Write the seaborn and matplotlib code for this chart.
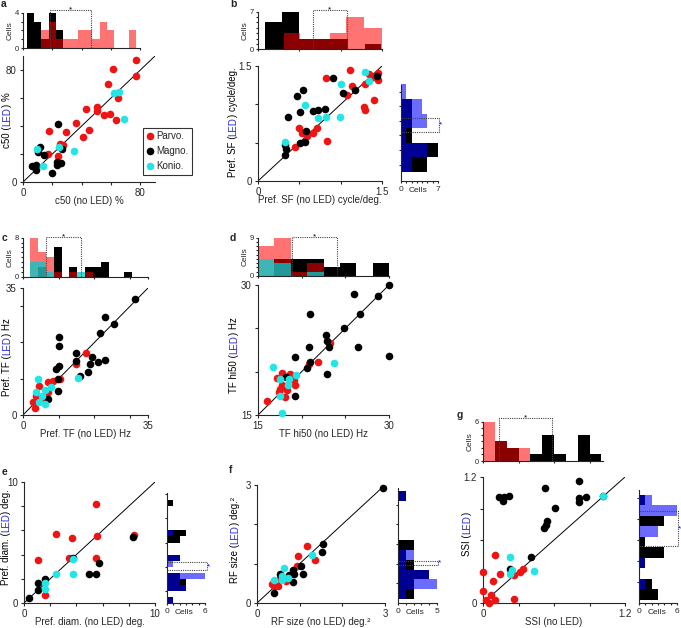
import numpy as np
import pandas as pd
import matplotlib
matplotlib.use("Agg")
import matplotlib.pyplot as plt
import seaborn as sns
from matplotlib.lines import Line2D
from matplotlib.transforms import IdentityTransform

# ---------------- data ----------------
# Panel a: c50 (%)
A_P_X = [77.3, 61.3, 77.0, 57.8, 64.7, 50.7, 42.7, 50.3, 55.3, 59.0, 63.5, 36.1, 45.3, 17.6, 29.3, 41.1, 27.4, 25.1, 17.1, 24.0]
A_P_Y = [87.2, 80.7, 75.9, 70.0, 59.7, 53.7, 51.8, 50.9, 47.8, 48.5, 44.2, 41.8, 37.5, 36.3, 35.8, 32.2, 26.3, 27.0, 19.8, 18.6]
A_M_X = [24.0, 11.4, 10.3, 14.4, 26.3, 22.9, 25.8, 23.3, 6.4, 9.1, 9.1, 19.9]
A_M_Y = [41.1, 25.1, 21.5, 19.6, 23.4, 14.3, 13.6, 12.4, 11.5, 12.4, 8.8, 6.4]
A_K_X = [62.2, 65.4, 68.6, 9.6, 24.7, 34.7, 13.3]
A_K_Y = [63.8, 64.5, 44.9, 23.9, 25.1, 22.0, 11.5]

# Panel b: preferred SF
B_P_X = [1.107, 0.819, 1.135, 1.082, 1.297, 1.398, 1.277, 1.289, 0.499, 0.709, 0.588, 0.661, 0.527, 0.450, 0.831, 1.338, 1.390, 1.447, 1.451]
B_P_Y = [1.443, 1.344, 1.235, 1.118, 1.270, 1.062, 0.967, 0.923, 0.685, 0.685, 0.590, 0.629, 0.620, 0.446, 0.520, 1.391, 1.357, 1.409, 1.322]
B_M_X = [0.904, 1.026, 1.176, 1.439, 0.539, 0.466, 0.507, 0.365, 0.669, 0.730, 0.811, 0.580, 0.507, 0.568, 0.324, 0.336, 0.332]
B_M_Y = [1.344, 1.149, 1.192, 1.365, 1.192, 1.105, 0.902, 0.837, 0.915, 0.932, 0.945, 0.650, 0.499, 0.512, 0.468, 0.412, 0.338]
B_K_X = [1.297, 1.001, 1.338, 0.568, 0.730, 0.823, 0.993, 0.332]
B_K_Y = [1.417, 1.270, 1.300, 0.988, 0.828, 0.837, 0.837, 0.512]

# Panel c: preferred TF
C_P_X = [17.7, 14.9, 10.4, 8.4, 7.0, 4.5, 7.0, 2.8, 3.3, 5.1, 6.5, 3.7]
C_P_Y = [17.0, 14.1, 9.9, 9.5, 9.2, 8.1, 6.4, 3.5, 1.8, 4.1, 5.5, 5.1]
C_M_X = [31.3, 22.9, 25.4, 21.5, 10.1, 10.1, 14.9, 19.4, 22.9, 21.1, 18.7, 10.1, 9.3, 14.9, 18.2, 15.9, 9.8, 9.8, 7.0]
C_M_Y = [32.0, 26.9, 25.1, 22.6, 21.6, 18.9, 17.0, 16.1, 15.2, 14.5, 14.0, 13.6, 12.7, 14.8, 11.8, 10.8, 9.9, 6.6, 4.3]
C_K_X = [4.2, 15.4, 7.7, 6.1, 3.7, 5.4, 4.4, 6.1]
C_K_Y = [9.9, 10.1, 7.6, 6.9, 6.4, 5.1, 3.5, 3.0]

# Panel d: TF hi50
D_P_X = [23.2, 20.8, 21.9, 17.7, 18.7, 17.2, 19.1, 17.7, 18.2, 17.5, 18.3, 19.2, 17.4, 18.1, 16.0]
D_P_Y = [23.3, 20.9, 21.1, 19.9, 19.7, 19.3, 19.0, 18.5, 18.3, 18.0, 17.9, 18.5, 17.7, 17.1, 16.6]
D_M_X = [30.0, 26.0, 28.7, 21.0, 26.7, 24.9, 22.8, 22.9, 20.8, 23.1, 26.4, 30.0, 19.2, 21.0, 20.6, 22.9, 18.2, 19.2]
D_M_Y = [30.0, 29.0, 28.7, 26.7, 26.7, 25.0, 24.2, 23.5, 22.8, 22.8, 22.9, 21.8, 21.7, 21.1, 20.4, 19.7, 19.4, 17.2]
D_K_X = [16.7, 23.7, 19.4, 17.5, 18.5, 18.4, 17.5, 17.8]
D_K_Y = [20.5, 21.0, 19.6, 19.2, 19.2, 18.5, 17.2, 15.2]

# Panel e: preferred diameter
E_P_X = [5.5, 2.44, 3.64, 5.6, 8.4, 1.04, 3.46, 5.5, 1.6]
E_P_Y = [8.2, 5.7, 5.34, 5.56, 5.6, 3.56, 3.75, 3.7, 0.68]
E_M_X = [8.35, 5.7, 4.99, 5.47, 3.77, 1.6, 1.04, 1.04, 0.4]
E_M_Y = [5.48, 3.29, 2.41, 2.41, 3.7, 1.97, 1.64, 1.1, 0.41]
E_K_X = [3.77, 2.44, 3.72, 1.6, 1.6]
E_K_Y = [3.64, 2.38, 2.38, 1.64, 1.15]

# Panel f: RF size
F_P_X = [1.18, 0.97, 1.36, 0.94, 0.55, 0.69, 0.35, 0.49, 0.39]
F_P_Y = [1.46, 1.19, 1.10, 0.95, 0.64, 0.55, 0.49, 0.42, 0.42]
F_M_X = [2.96, 1.54, 1.53, 1.03, 1.07, 0.84, 0.86, 0.74, 0.55, 0.84, 0.39]
F_M_Y = [2.93, 1.49, 1.29, 0.93, 0.74, 0.83, 0.75, 0.71, 0.75, 0.54, 0.25]
F_K_X = [1.29, 0.64, 0.58, 0.72, 0.58, 0.39]
F_K_Y = [1.21, 0.88, 0.68, 0.64, 0.58, 0.58]

# Panel g: SSI
G_P_X = [0.099, 0.0, 0.147, 0.085, 0.263, 0.316, 0.339, 0.0, 0.023, 0.065, 0.099, 0.05, 0.263]
G_P_Y = [0.454, 0.295, 0.276, 0.213, 0.270, 0.295, 0.324, 0.117, 0.025, 0.079, 0.032, 0.0, 0.041]
G_M_X = [0.81, 0.52, 0.136, 0.175, 0.217, 0.169, 0.813, 0.87, 0.81, 0.607, 0.542, 0.531, 0.514, 0.404, 0.226, 1.01]
G_M_Y = [1.165, 1.095, 1.01, 1.01, 1.02, 0.975, 1.0, 1.006, 0.959, 0.905, 0.778, 0.746, 0.714, 0.435, 0.327, 1.016]
G_K_X = [1.01, 0.226, 0.246, 0.231, 0.429]
G_K_Y = [1.016, 0.435, 0.317, 0.279, 0.308]

# Top histograms (bin edges + counts)
HA_EDGES = [2.5, 7.5, 12.5, 17.5, 22.5, 27.5, 32.5, 37.5, 42.5, 47.5, 52.5, 57.5, 62.5, 67.5, 72.5, 77.5]
HA_BLACK = [4, 3, 1, 4, 2, 0, 0, 0, 0, 0, 0, 0, 0, 0, 0]
HA_RED = [0, 0, 2, 3, 1, 1, 1, 2, 2, 1, 3, 2, 0, 0, 2]

HB_BLACK_EDGES = [0.09, 0.29, 0.49, 0.69, 0.89, 1.09, 1.29, 1.49]
HB_BLACK = [5, 7, 2, 2, 2, 0, 1]
HB_RED_EDGES = [0.32, 0.51, 0.69, 0.87, 1.07, 1.28, 1.50]
HB_RED = [3, 2, 2, 3, 6, 4]

HC_EDGES = [2.0, 4.2, 6.4, 8.6, 10.8, 13.0, 15.2, 17.4, 19.6, 21.8, 24.0, 26.2, 28.4, 30.6, 32.8]
HC_BLACK = [0, 2, 0, 6, 0, 2, 0, 2, 2, 3, 0, 0, 1, 0]
HC_RED = [8, 5, 4, 1, 0, 1, 0, 1, 0, 0, 0, 0, 0, 0]
HC_CYAN = [3, 3, 1, 0, 0, 0, 1, 0, 0, 0, 0, 0, 0, 0]

HD_EDGES = [15.0, 16.875, 18.75, 20.625, 22.5, 24.375, 26.25, 28.125, 30.0]
HD_BLACK = [0, 4, 4, 4, 2, 3, 0, 3]
HD_RED = [7, 9, 1, 3, 0, 0, 0, 0]
HD_CYAN = [4, 3, 0, 1, 0, 0, 0, 0]

HG_EDGES = [0.0, 0.1, 0.2, 0.3, 0.4, 0.5, 0.6, 0.7, 0.8, 0.9, 1.0]
HG_BLACK = [0, 3, 2, 0, 1, 4, 1, 0, 4, 1]
HG_RED = [6, 3, 2, 2, 0, 0, 0, 0, 0, 0]

# Right histograms (LED)
RB_EDGES = [0.12, 0.31, 0.50, 0.69, 0.88, 1.07, 1.26]
RB_BLACK = [5, 7, 2, 2, 2, 0]
RB_BLUE = [2, 5, 1, 5, 4, 1]

RE_EDGES = [0.0, 0.5, 1.0, 1.5, 2.0, 2.5, 3.0, 3.5, 4.0, 4.5, 5.0, 5.5, 6.0, 6.5, 7.0, 7.5, 8.0, 8.5]
RE_BLACK = [1, 0, 3, 3, 2, 0, 0, 2, 0, 0, 2, 3, 0, 0, 0, 0, 1]
RE_BLUE = [1, 0, 3, 2, 6, 0, 1, 2, 0, 0, 0, 1, 0, 0, 0, 0, 0]

RF_EDGES = [0.1, 0.35, 0.6, 0.85, 1.1, 1.35, 1.6, 1.85, 2.1, 2.35, 2.6, 2.85]
RF_BLACK = [2, 2, 4, 2, 1, 2, 0, 0, 0, 0, 1]
RF_BLUE = [1, 5, 4, 1, 2, 0, 0, 0, 0, 0, 1]

RG_EDGES = [0.03, 0.13, 0.23, 0.33, 0.43, 0.53, 0.63, 0.73, 0.83, 0.93, 1.03]
RG_BLACK = [3, 2, 0, 1, 4, 1, 0, 4, 0, 1]
RG_BLUE = [0, 1, 0, 1, 0, 0, 3, 0, 6, 2]

# significance brackets (mean positions)
SIG_A = (18.3, 46.4)
SIG_B = (0.66, 1.074)
SIG_C = (6.35, 16.3)
SIG_D = (18.9, 24.0)
SIG_G = (0.136, 0.579)
SIG_RB = (0.64, 0.82)
SIG_RE = (2.7, 3.35)
SIG_RF = (0.97, 1.07)
SIG_RG = (0.54, 0.88)

LEGEND_LABELS = ["Parvo.", "Magno.", "Konio."]

# ---------------- style ----------------
sns.set_style("ticks")
plt.rcParams["font.family"] = ["Liberation Sans", "DejaVu Sans"]
plt.rcParams["axes.linewidth"] = 0.8
plt.rcParams["xtick.major.width"] = 0.8
plt.rcParams["ytick.major.width"] = 0.8

RED = "#ee1414"
BLACK = "#000000"
CYAN = "#22e6e6"
LEDBLUE = "#2a2ad8"
HRED = "#ff0000"
HCYAN = "#00cccc"
HBLUE = "#0000ff"
DOT = "#444444"

W, H = 681, 628
fig = plt.figure(figsize=(W / 100, H / 100), dpi=100)


def add_ax(x0, y0, x1, y1):
    return fig.add_axes([x0 / W, 1 - y1 / H, (x1 - x0) / W, (y1 - y0) / H])


def fmt(v):
    return ("%g" % v)


def end_labels(ticks):
    return [fmt(ticks[0])] + [""] * (len(ticks) - 2) + [fmt(ticks[-1])]


def hist_frame(edges, counts):
    e = np.asarray(edges, dtype=float)
    return pd.DataFrame({"v": (e[:-1] + e[1:]) / 2, "w": np.asarray(counts, dtype=float)})


def scatter_panel(box, lim, ticks, groups, xlabel):
    ax = add_ax(*box)
    for xs, ys, col in groups:
        df = pd.DataFrame({"x": xs, "y": ys})
        sns.scatterplot(data=df, x="x", y="y", color=col, s=30, linewidth=0, ax=ax,
                        legend=False, clip_on=False, zorder=3)
    ax.axline((lim[0], lim[0]), slope=1, color="k", lw=0.7, zorder=2)
    ax.set_xlim(lim)
    ax.set_ylim(lim)
    ax.set_xticks(ticks)
    ax.set_xticklabels(end_labels(ticks))
    ax.set_yticks(ticks)
    ax.set_yticklabels(end_labels(ticks))
    ax.tick_params(length=2, pad=2.5, labelsize=7)
    sns.despine(ax=ax)
    ax.set_xlabel(xlabel, fontsize=7, labelpad=-1.5)
    ax.set_ylabel("")
    return ax


def top_hist(box, xlim, ymax, layers, xticks, sig, top):
    ax = add_ax(*box)
    for edges, counts, col, al in layers:
        df = hist_frame(edges, counts)
        sns.histplot(data=df, x="v", weights="w", bins=list(edges), color=col, alpha=al,
                     linewidth=0, ax=ax)
    ax.set_xlim(xlim)
    ax.set_ylim(0, ymax)
    ax.set_xticks(xticks)
    ax.set_xticklabels([])
    ax.set_yticks(range(ymax + 1))
    ax.set_yticklabels(["0"] + [""] * (ymax - 1) + [str(ymax)])
    ax.tick_params(length=1.5, pad=1.5, labelsize=5.5)
    sns.despine(ax=ax)
    ax.set_xlabel("")
    ax.set_ylabel("Cells", fontsize=6, labelpad=1)
    x1, x2 = sig
    ax.plot([x1, x1, x2, x2], [0, top, top, 0], ls=(0, (1, 1)), color=DOT,
            lw=0.8, clip_on=False, zorder=5)
    ax.text((x1 + x2) / 2, top, "*", ha="center", va="center", fontsize=6,
            color="k", clip_on=False)
    return ax


def right_hist(box, ylim, xmax, edges, black, blue, yticks, spine_top, sig, xr, cells_xy):
    ax = add_ax(*box)
    sns.histplot(data=hist_frame(edges, black), y="v", weights="w", bins=list(edges),
                 color=BLACK, alpha=1, linewidth=0, ax=ax)
    sns.histplot(data=hist_frame(edges, blue), y="v", weights="w", bins=list(edges),
                 color=HBLUE, alpha=0.58, linewidth=0, ax=ax)
    ax.set_ylim(ylim)
    ax.set_xlim(0, xmax)
    ax.set_xticks(range(xmax + 1))
    ax.set_xticklabels(["0"] + [""] * (xmax - 1) + [str(xmax)])
    ax.set_yticks(yticks)
    ax.set_yticklabels([])
    ax.tick_params(length=1.5, pad=2, labelsize=6)
    sns.despine(ax=ax)
    ax.spines["left"].set_bounds(ylim[0], spine_top)
    ax.set_xlabel("")
    ax.set_ylabel("")
    y1, y2 = sig
    ax.plot([0, xr, xr, 0], [y1, y1, y2, y2], ls=(0, (1, 1)), color=DOT,
            lw=0.8, clip_on=False, zorder=5)
    ax.text(xr + 0.05 * xmax, (y1 + y2) / 2, "*", ha="center", va="center",
            fontsize=6, color=HBLUE, clip_on=False)
    fig.text(cells_xy[0] / W, 1 - cells_xy[1] / H, "Cells", ha="center",
             va="center", fontsize=6)
    return ax


def color_vlabel(xc, yc, parts, fs=7):
    r = fig.canvas.get_renderer()
    objs = []
    for s, col in parts:
        t = fig.text(0, 0, s, color=col, fontsize=fs, rotation=90,
                     ha="center", va="bottom", transform=IdentityTransform())
        objs.append(t)
    hs = [t.get_window_extent(r).height for t in objs]
    y = (H - yc) - sum(hs) / 2
    for t, h in zip(objs, hs):
        t.set_position((xc, y))
        y += h


def panel_letter(x, y, s):
    fig.text(x / W, 1 - y / H, s, fontsize=7.5, fontweight="bold",
             ha="left", va="center")


# ---------------- panel a ----------------
ax_a = scatter_panel((23, 56, 155, 182), (0, 90), [0, 20, 40, 60, 80],
                     [(A_P_X, A_P_Y, RED), (A_M_X, A_M_Y, BLACK), (A_K_X, A_K_Y, CYAN)],
                     "c50 (no LED) %")
handles = [Line2D([], [], marker="o", ls="", color=c, markersize=5.5, markeredgewidth=0)
           for c in (RED, BLACK, CYAN)]
leg = ax_a.legend(handles, LEGEND_LABELS, loc="upper left",
                  bbox_to_anchor=(143 / W, 1 - 128 / H), bbox_transform=fig.transFigure,
                  frameon=True, fancybox=False, edgecolor="k", fontsize=7,
                  handletextpad=0.25, borderpad=0.35, labelspacing=0.5,
                  handlelength=0.8, borderaxespad=0)
leg.get_frame().set_linewidth(0.8)
top_hist((23, 12.7, 140, 48.3), (0, 80), 4,
         [(HA_EDGES, HA_BLACK, BLACK, 1.0), (HA_EDGES, HA_RED, HRED, 0.55)],
         [0, 20, 40, 60, 80], SIG_A, 4.3)
color_vlabel(7, 120, [("c50 (", "k"), ("LED", LEDBLUE), (") %", "k")])
panel_letter(1, 4, "a")

# ---------------- panel b ----------------
scatter_panel((258, 66, 382, 181), (0, 1.5), [0, 0.5, 1.0, 1.5],
              [(B_P_X, B_P_Y, RED), (B_M_X, B_M_Y, BLACK), (B_K_X, B_K_Y, CYAN)],
              "Pref. SF (no LED) cycle/deg.")
top_hist((258, 11.7, 382, 49.3), (0, 1.5), 7,
         [(HB_BLACK_EDGES, HB_BLACK, BLACK, 1.0), (HB_RED_EDGES, HB_RED, HRED, 0.55)],
         [0, 0.5, 1.0, 1.5], SIG_B, 7.3)
right_hist((401, 66, 438, 181), (0, 1.5), 7, RB_EDGES, RB_BLACK, RB_BLUE,
           [0.215, 0.405, 0.595, 0.785, 0.975, 1.165], 1.25, SIG_RB, 7.1, (418, 190))
color_vlabel(233, 122, [("Pref. SF (", "k"), ("LED", LEDBLUE), (") cycle/deg.", "k")])
panel_letter(230, 4, "b")

# ---------------- panel c ----------------
scatter_panel((23, 288, 148, 415), (0, 35), [0, 10, 20, 30, 35],
              [(C_P_X, C_P_Y, RED), (C_M_X, C_M_Y, BLACK), (C_K_X, C_K_Y, CYAN)],
              "Pref. TF (no LED) Hz")
top_hist((23, 237.7, 148, 276.7), (0, 35), 8,
         [(HC_EDGES, HC_BLACK, BLACK, 1.0), (HC_EDGES, HC_RED, HRED, 0.55),
          (HC_EDGES, HC_CYAN, HCYAN, 0.75)],
         [0, 10, 20, 30, 35], SIG_C, 8.1)
color_vlabel(7, 357, [("Pref. TF (", "k"), ("LED", LEDBLUE), (") Hz", "k")])
panel_letter(2, 238, "c")

# ---------------- panel d ----------------
scatter_panel((258, 285, 389, 415), (15, 30), [15, 20, 25, 30],
              [(D_P_X, D_P_Y, RED), (D_M_X, D_M_Y, BLACK), (D_K_X, D_K_Y, CYAN)],
              "TF hi50 (no LED) Hz")
top_hist((258, 237.7, 389, 276), (15, 30), 9,
         [(HD_EDGES, HD_BLACK, BLACK, 1.0), (HD_EDGES, HD_RED, HRED, 0.55),
          (HD_EDGES, HD_CYAN, HCYAN, 0.75)],
         [15, 20, 25, 30], SIG_D, 9.1)
color_vlabel(234, 355, [("TF hi50 (", "k"), ("LED", LEDBLUE), (") Hz", "k")])
panel_letter(230, 238, "d")

# ---------------- panel e ----------------
scatter_panel((24, 482, 155, 603), (0, 10), [0, 2, 4, 6, 8, 10],
              [(E_P_X, E_P_Y, RED), (E_M_X, E_M_Y, BLACK), (E_K_X, E_K_Y, CYAN)],
              "Pref. diam. (no LED) deg.")
right_hist((167, 482, 205, 603), (0, 10), 6, RE_EDGES, RE_BLACK, RE_BLUE,
           [1, 3, 5, 7, 9], 9.1, SIG_RE, 6.25, (184, 612))
color_vlabel(6, 537, [("Pref. diam. (", "k"), ("LED", LEDBLUE), (") deg.", "k")])
panel_letter(2, 472, "e")

# ---------------- panel f ----------------
scatter_panel((257, 485, 385, 603), (0, 3), [0, 1, 2, 3],
              [(F_P_X, F_P_Y, RED), (F_M_X, F_M_Y, BLACK), (F_K_X, F_K_Y, CYAN)],
              "RF size (no LED) deg.\u00b2")
right_hist((398, 485, 437, 603), (0, 3), 5, RF_EDGES, RF_BLACK, RF_BLUE,
           [0.5, 1.0, 1.5, 2.0, 2.5], 2.92, SIG_RF, 5.1, (415, 612))
color_vlabel(235, 540, [("RF size (", "k"), ("LED", LEDBLUE), (") deg.\u00b2", "k")])
panel_letter(229, 470, "f")

# ---------------- panel g ----------------
scatter_panel((483, 477, 625, 603), (0, 1.2), [0, 0.3, 0.6, 0.9, 1.2],
              [(G_P_X, G_P_Y, RED), (G_M_X, G_M_Y, BLACK), (G_K_X, G_K_Y, CYAN)],
              "SSI (no LED)")
top_hist((483, 421.7, 603, 461), (0, 1.014), 6,
         [(HG_EDGES, HG_BLACK, BLACK, 1.0), (HG_EDGES, HG_RED, HRED, 0.55)],
         [0, 0.3, 0.6, 0.9], SIG_G, 6.6)
right_hist((639, 477, 677, 603), (0, 1.2), 6, RG_EDGES, RG_BLACK, RG_BLUE,
           [0.2, 0.4, 0.6, 0.8, 1.0], 1.076, SIG_RG, 6.1, (657, 612))
color_vlabel(467, 534, [("SSI (", "k"), ("LED", LEDBLUE), (")", "k")])
panel_letter(457, 415, "g")

fig.savefig("out.png", dpi=100)
